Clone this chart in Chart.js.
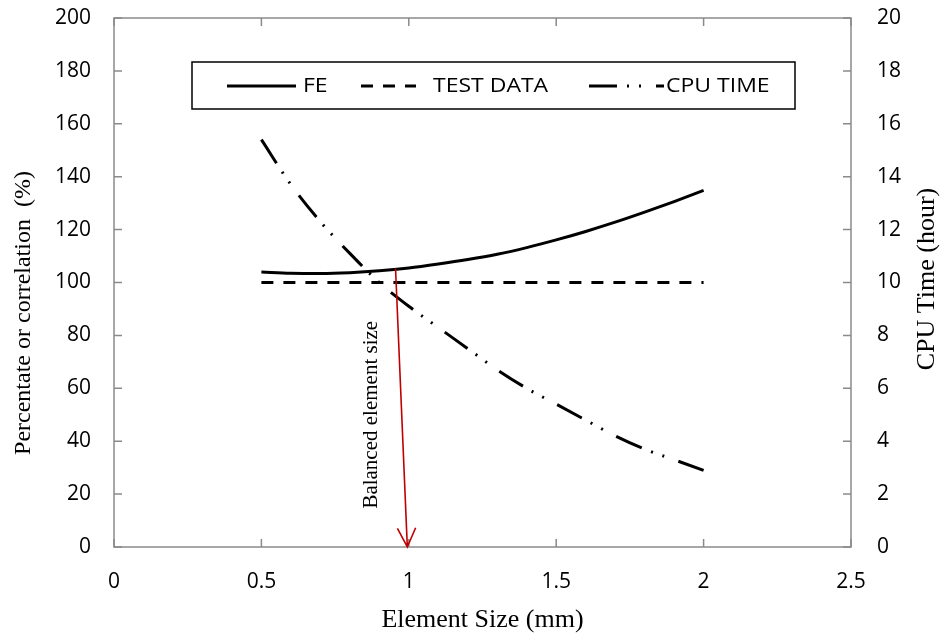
<!DOCTYPE html>
<html lang="en">
<head>
<meta charset="UTF-8">
<title>Element Size vs. Correlation and CPU Time</title>
<script src="https://cdn.jsdelivr.net/npm/chart.js@4"></script>
<style>
  html, body { margin: 0; padding: 0; background: #fff; }
</style>
</head>
<body>
<canvas id="sizeChart" width="940" height="637"></canvas>

<script>
// element size (mm) for each sample
var elementSize = [0.5, 0.6, 0.7, 0.8, 0.9, 1.0, 1.1, 1.2, 1.3, 1.4, 1.5, 1.6, 1.7, 1.8, 1.9, 2.0];
// FE result as percentage of test
var feValues = [104, 103.5, 103.4, 103.7, 104.4, 105.5, 107, 108.7, 110.7, 113.2, 116.1, 119.3, 122.8, 126.6, 130.6, 134.8];
// test reference
var testValues = [100, 100, 100, 100, 100, 100, 100, 100, 100, 100, 100, 100, 100, 100, 100, 100];
// CPU time in hours (right axis)
var cpuHours = [15.4, 13.7, 12.3, 11.1, 10.0, 9.1, 8.3, 7.5, 6.7, 6.0, 5.4, 4.8, 4.2, 3.7, 3.3, 2.9];

var seriesNames = ['FE', 'TEST DATA', 'CPU TIME'];
var arrowFrom = [0.955, 105.3];   // on the FE curve
var arrowTo = [0.995, 0];
var noteText = 'Balanced element size';
var notePos = [0.874, 50];

var AXIS_GREY = '#8a8a8a';
var dashTest = [12, 10];
var dashCpu = [28, 10, 2, 10, 2, 15];

function drawText(ctx, text, x, y, font, align, stretch, rotate) {
    ctx.save();
    ctx.translate(x, y);
    ctx.scale(stretch || 1, 1);
    if (rotate) ctx.rotate(rotate);
    ctx.font = font;
    ctx.fillStyle = '#000';
    ctx.textAlign = align || 'center';
    ctx.textBaseline = 'middle';
    ctx.fillText(text, 0, 0);
    ctx.restore();
}

// no extra room for half-height labels: plot box is placed by fixed sizes
function noEdgePadding(s) {
    s.paddingTop = 0; s.paddingBottom = 0;
    s.paddingLeft = 0; s.paddingRight = 0;
}

// box around the plot with inward tick marks on all four sides
var framePlugin = {
    id: 'frame',
    beforeDatasetsDraw: function(chart) {
        var ctx = chart.ctx, a = chart.chartArea;
        var sx = chart.scales.x, sy = chart.scales.y, sy1 = chart.scales.y1;
        var tl = 8;
        ctx.save();
        ctx.strokeStyle = AXIS_GREY;
        ctx.lineWidth = 1.5;
        ctx.strokeRect(a.left, a.top, a.right - a.left, a.bottom - a.top);
        ctx.beginPath();
        sx.ticks.forEach(function(t) {
            var px = sx.getPixelForValue(t.value);
            ctx.moveTo(px, a.bottom); ctx.lineTo(px, a.bottom - tl);
            ctx.moveTo(px, a.top); ctx.lineTo(px, a.top + tl);
        });
        sy.ticks.forEach(function(t) {
            var py = sy.getPixelForValue(t.value);
            ctx.moveTo(a.left, py); ctx.lineTo(a.left + tl, py);
        });
        sy1.ticks.forEach(function(t) {
            var py = sy1.getPixelForValue(t.value);
            ctx.moveTo(a.right, py); ctx.lineTo(a.right - tl, py);
        });
        ctx.stroke();
        ctx.restore();
    },
    afterDatasetsDraw: function(chart) {
        var ctx = chart.ctx;
        var sx = chart.scales.x, sy = chart.scales.y;

        // red arrow marking the balanced size
        var x1 = sx.getPixelForValue(arrowFrom[0]), y1 = sy.getPixelForValue(arrowFrom[1]);
        var x2 = sx.getPixelForValue(arrowTo[0]), y2 = sy.getPixelForValue(arrowTo[1]);
        var ang = Math.atan2(y2 - y1, x2 - x1), head = 21, spread = 0.45;
        ctx.save();
        ctx.strokeStyle = '#c00000';
        ctx.lineWidth = 1.6;
        ctx.beginPath();
        ctx.moveTo(x1, y1); ctx.lineTo(x2, y2);
        ctx.moveTo(x2 - head * Math.cos(ang - spread), y2 - head * Math.sin(ang - spread));
        ctx.lineTo(x2, y2);
        ctx.lineTo(x2 - head * Math.cos(ang + spread), y2 - head * Math.sin(ang + spread));
        ctx.stroke();
        ctx.restore();

        drawText(ctx, noteText, sx.getPixelForValue(notePos[0]), sy.getPixelForValue(notePos[1]),
            '21px "Liberation Serif"', 'center', 1, -Math.PI / 2);

        // axis titles for the two y axes, both reading bottom to top
        drawText(ctx, 'Percentate or correlation  (%)', 24, 313, '24px "Liberation Serif"', 'center', 1, -Math.PI / 2);
        drawText(ctx, 'CPU Time (hour)', 927, 279, '26px "Liberation Serif"', 'center', 1, -Math.PI / 2);

        // legend box
        var L = 192, T = 62, R = 795, B = 109, ly = 86;
        ctx.save();
        ctx.fillStyle = '#fff';
        ctx.fillRect(L, T, R - L, B - T);
        ctx.strokeStyle = '#000';
        ctx.lineWidth = 1.5;
        ctx.strokeRect(L, T, R - L, B - T);
        ctx.lineWidth = 3;
        var samples = [[227, 296, []], [361, 416, dashTest], [589, 664, dashCpu]];
        samples.forEach(function(s) {
            ctx.setLineDash(s[2]);
            ctx.beginPath();
            ctx.moveTo(s[0], ly); ctx.lineTo(s[1], ly);
            ctx.stroke();
        });
        ctx.restore();
        var textX = [303, 433, 666];
        seriesNames.forEach(function(n, i) {
            drawText(ctx, n, textX[i], ly, '20px "Open Sans"', 'left', 1.15, 0);
        });
    }
};

var tickFont = { family: 'Open Sans', size: 21 };

var ctx = document.getElementById('sizeChart').getContext('2d');
var chart = new Chart(ctx, {
    type: 'line',
    data: {
        datasets: [{
            label: seriesNames[0],
            data: elementSize.map(function(x, i) { return {x: x, y: feValues[i]}; }),
            borderColor: '#000',
            borderWidth: 3,
            cubicInterpolationMode: 'monotone',
            yAxisID: 'y'
        }, {
            label: seriesNames[1],
            data: elementSize.map(function(x, i) { return {x: x, y: testValues[i]}; }),
            borderColor: '#000',
            borderWidth: 3,
            borderDash: dashTest,
            yAxisID: 'y'
        }, {
            label: seriesNames[2],
            data: elementSize.map(function(x, i) { return {x: x, y: cpuHours[i]}; }),
            borderColor: '#000',
            borderWidth: 3,
            borderDash: dashCpu,
            cubicInterpolationMode: 'monotone',
            yAxisID: 'y1'
        }]
    },
    options: {
        responsive: false,
        animation: false,
        devicePixelRatio: 1,
        layout: { padding: { top: 18, left: 0, right: 0, bottom: 0 } },
        elements: { point: { radius: 0 } },
        plugins: { legend: { display: false }, tooltip: { enabled: false } },
        scales: {
            x: {
                type: 'linear',
                min: 0, max: 2.5,
                grid: { display: false, drawTicks: false },
                border: { display: false },
                ticks: {
                    stepSize: 0.5, padding: 22, color: '#000', font: tickFont,
                    callback: function(v) { return String(v); }
                },
                title: {
                    display: true, text: 'Element Size (mm)', color: '#000',
                    font: { family: 'Liberation Serif', size: 26 }, padding: { top: 0, bottom: 1 }
                },
                afterFit: function(s) { s.height = 90; noEdgePadding(s); }
            },
            y: {
                position: 'left',
                min: 0, max: 200,
                grid: { display: false, drawTicks: false },
                border: { display: false },
                ticks: { stepSize: 20, padding: 23, color: '#000', font: tickFont },
                afterFit: function(s) { s.width = 114; noEdgePadding(s); }
            },
            y1: {
                position: 'right',
                min: 0, max: 20,
                grid: { display: false, drawTicks: false },
                border: { display: false },
                ticks: { stepSize: 2, padding: 26, color: '#000', font: tickFont },
                afterFit: function(s) { s.width = 89; noEdgePadding(s); }
            }
        }
    },
    plugins: [framePlugin]
});
</script>
</body>
</html>
